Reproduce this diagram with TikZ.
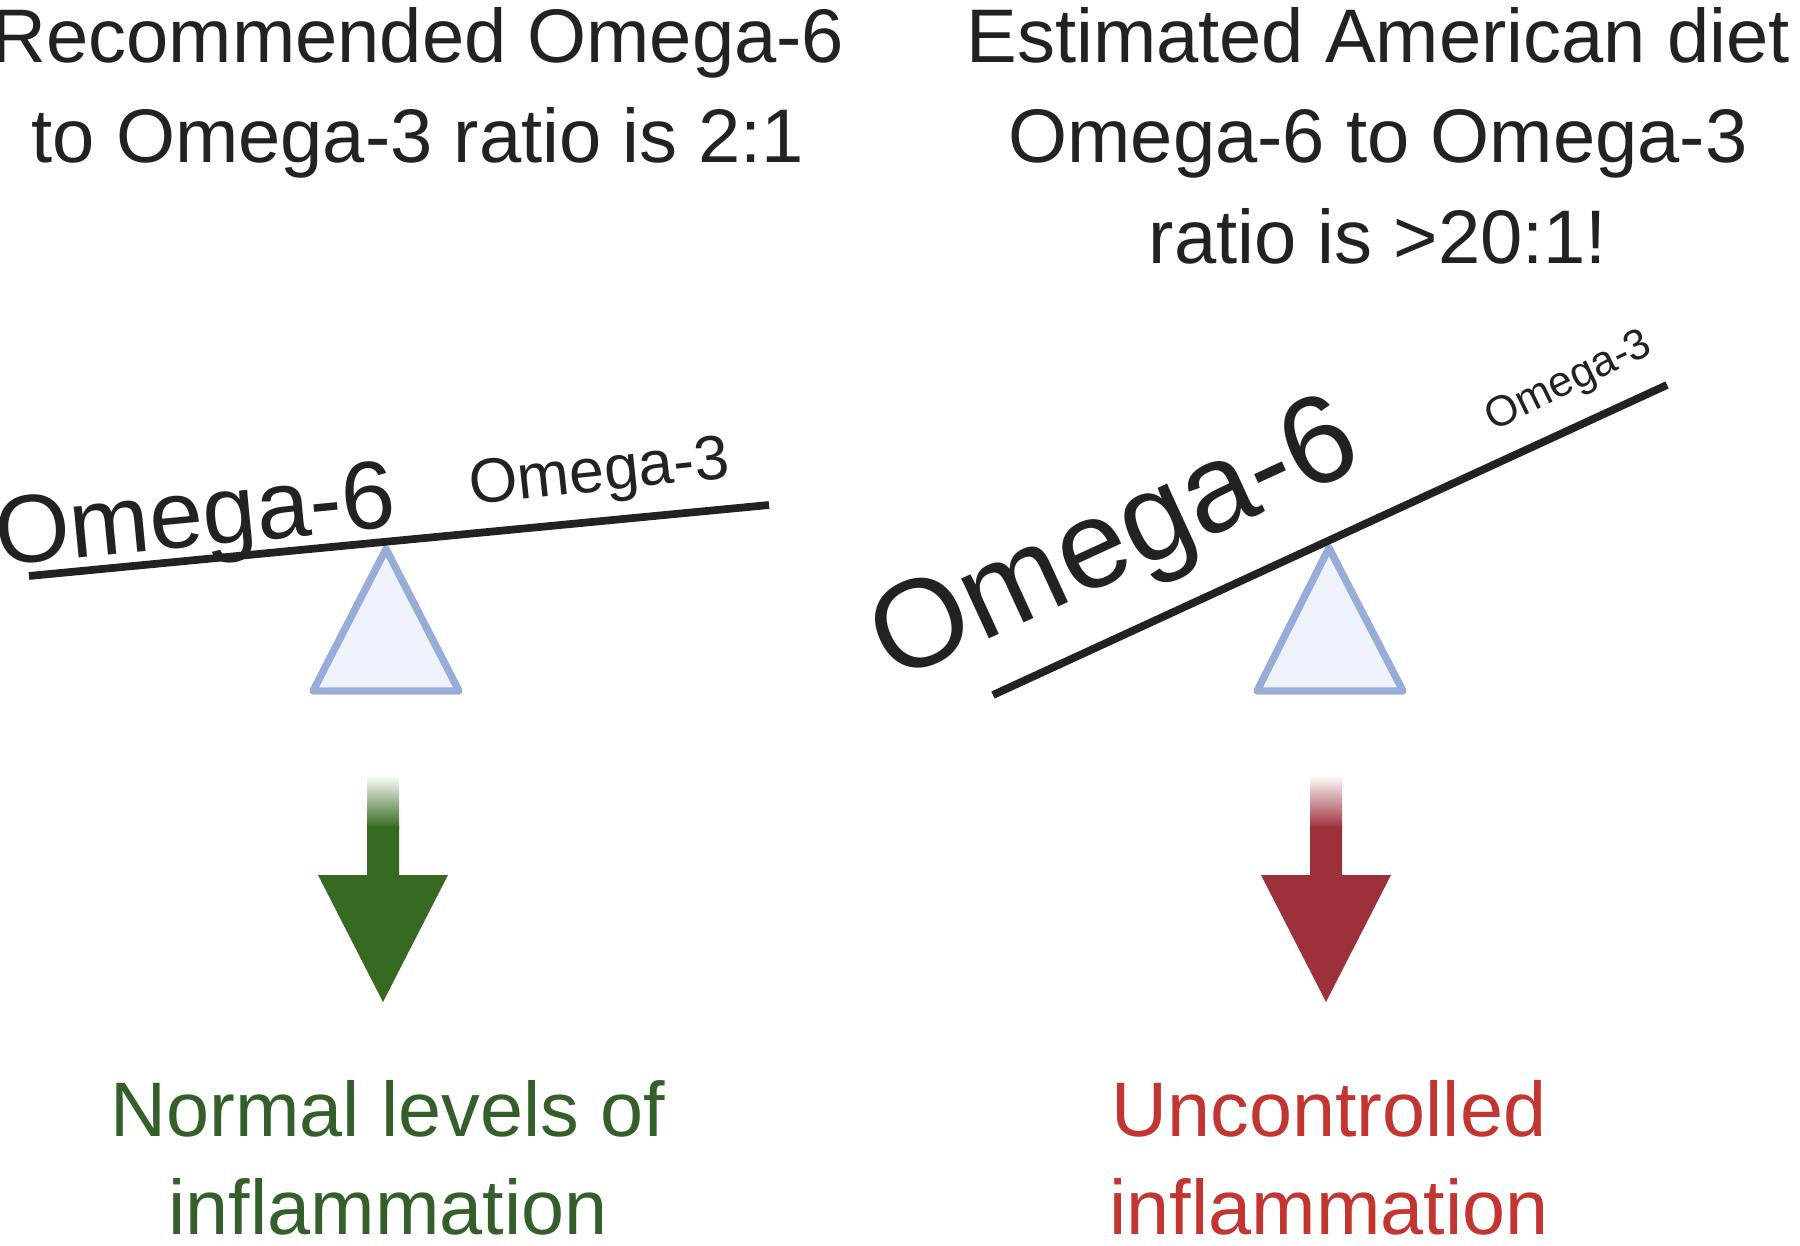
\documentclass[tikz,border=0pt]{standalone}
\usepackage{fontspec}
\setmainfont{Liberation Sans}
\usetikzlibrary{positioning}

\definecolor{beamink}{HTML}{222222}
\definecolor{fulcrumline}{HTML}{97ADD7}
\definecolor{fulcrumfill}{HTML}{EEF3FB}
\definecolor{goodarrow}{HTML}{376A20}
\definecolor{goodtext}{HTML}{345F2A}
\definecolor{badarrow}{HTML}{9C313C}
\definecolor{badtext}{HTML}{C23530}

\begin{document}
\begin{tikzpicture}[
    x=0.01cm, y=-0.01cm,
    title/.style={
      font=\fontsize{21.6}{28.5}\selectfont,
      text=beamink,
      align=center,
      inner sep=0pt,
      anchor=north,
    },
    outcome/.style={
      font=\fontsize{22}{28}\selectfont,
      align=center,
      inner sep=0pt,
      anchor=south,
    },
    omegatext/.style={
      text=beamink,
      inner sep=0pt,
      anchor=base,
    },
    beam/.style={draw=beamink, line width=2.2pt},
    fulcrum/.style={
      draw=fulcrumline,
      fill=fulcrumfill,
      line width=2.1pt,
      line join=round,
    },
  ]
  \useasboundingbox (0,0) rectangle (1800,1246);

  % --- Titles ---
  \node[title] (T1) at (418,7) {%
    Recommended Omega-6\\
    to Omega-3 ratio is 2:1%
  };
  \node[title] (T2) at (1378,7) {%
    Estimated American diet\\
    Omega-6 to Omega-3\\
    ratio is >20:1!%
  };

  % --- Left seesaw: balanced ratio ---
  \draw[fulcrum] (386,549) -- (459,691) -- (313,691) -- cycle;
  \draw[beam] (29,576) -- (769,505);
  \node[omegatext, rotate=5.5, font=\fontsize{27.4}{30}\selectfont] (L6) at (198,546) {Omega-6};
  \node[omegatext, rotate=6, font=\fontsize{17.8}{20}\selectfont] (L3) at (601,491) {Omega-3};

  % --- Right seesaw: tipped ratio ---
  \draw[fulcrum] (1329,548) -- (1403,691) -- (1257,691) -- cycle;
  \draw[beam] (993,695) -- (1667,385);
  \node[omegatext, rotate=24.7, font=\fontsize{35.5}{40}\selectfont] (R6) at (1130,574) {Omega-6};
  \node[omegatext, rotate=26, font=\fontsize{12.2}{14}\selectfont] (R3) at (1574,392) {Omega-3};

  % --- Downward arrows ---
  \shade[top color=white, bottom color=goodarrow] (367,775) rectangle (399,828);
  \fill[goodarrow] (367,826) -- (399,826) -- (399,875) -- (448,875)
    -- (383,1002) -- (318,875) -- (367,875) -- cycle;
  \shade[top color=white, bottom color=badarrow] (1310,775) rectangle (1342,828);
  \fill[badarrow] (1310,826) -- (1342,826) -- (1342,875) -- (1391,875)
    -- (1326,1002) -- (1261,875) -- (1310,875) -- cycle;

  % --- Outcomes ---
  \node[outcome, text=goodtext] (O1) at (388,1236) {%
    Normal levels of\\
    inflammation%
  };
  \node[outcome, text=badtext] (O2) at (1329,1236) {%
    Uncontrolled\\
    inflammation%
  };

\end{tikzpicture}
\end{document}
